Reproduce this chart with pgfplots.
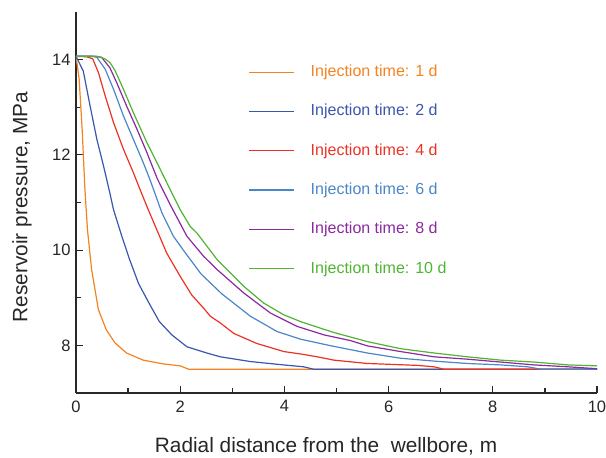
\documentclass[border=0pt]{standalone}
\usepackage{pgfplots}
\pgfplotsset{compat=1.18}
\usepackage{fontspec}
\setmainfont{Liberation Sans}
\definecolor{cOrange}{RGB}{245,130,32}
\definecolor{cDBlue}{RGB}{58,86,174}
\definecolor{cRed}{RGB}{236,50,36}
\definecolor{cLBlue}{RGB}{74,134,200}
\definecolor{cPurple}{RGB}{140,40,160}
\definecolor{cGreen}{RGB}{80,180,50}
\definecolor{axgray}{RGB}{40,40,40}
\begin{document}
\begin{tikzpicture}
\useasboundingbox (-76pt,-65pt) rectangle (530pt,393pt);
\begin{axis}[
  at={(0pt,0pt)}, anchor=south west,
  scale only axis, width=521pt, height=381pt,
  xmin=0, xmax=10, ymin=7, ymax=15,
  axis x line=bottom, axis y line=left,
  axis line style={-, line width=1.4pt, color=axgray},
  xtick={0,2,4,6,8,10}, ytick={8,10,12,14},
  minor tick num=1,
  tick align=inside,
  major tick length=7pt, minor tick length=5pt,
  tick style={line width=1.2pt, color=axgray},
  /pgf/number format/assume math mode=true,
  ticklabel style={font=\fontsize{16.5}{18}\selectfont, color=black!85},
  xticklabel style={yshift=-4pt},
  yticklabel style={xshift=-2pt},
  xlabel={Radial distance from the\ \ wellbore, m},
  ylabel={Reservoir pressure, MPa},
  label style={font=\fontsize{20.8}{22}\selectfont, color=black!85},
  xlabel style={at={(axis description cs:0.48,-0.155)}, anchor=base},
  ylabel style={at={(axis description cs:-0.1036,0.488)}, anchor=center},
  legend cell align=left,
  legend style={at={(axis cs:3.25,13.94)}, anchor=north west, draw=none, fill=none,
    font=\fontsize{16}{18}\selectfont,
    nodes={inner sep=0pt, text height=12pt, text depth=3pt},
    row sep=24.3pt,
    /tikz/every odd column/.append style={column sep=16pt}},
  legend image code/.code={\draw[#1, line width=1.2pt] (0pt,0pt) -- (45pt,0pt);},
  every axis plot/.append style={line width=1.2pt},
]
\addplot[cOrange] coordinates {(0,14.07)(0.06,13.6)(0.12,12.5)(0.17,11.3)(0.22,10.43)(0.30,9.59)(0.43,8.75)(0.58,8.33)(0.75,8.05)(0.97,7.84)(1.29,7.69)(1.68,7.61)(2.0,7.57)(2.16,7.5)(10,7.5)};
\addlegendentry{\textcolor{cOrange}{Injection time: 1 d}}
\addplot[cDBlue] coordinates {(0,14.07)(0.14,13.76)(0.27,13.03)(0.40,12.33)(0.53,11.76)(0.65,11.2)(0.72,10.85)(0.88,10.29)(1.03,9.8)(1.2,9.3)(1.42,8.85)(1.6,8.5)(1.84,8.22)(2.13,7.97)(2.51,7.84)(2.77,7.76)(3.35,7.66)(3.98,7.59)(4.37,7.55)(4.56,7.5)(10,7.5)};
\addlegendentry{\textcolor{cDBlue}{Injection time: 2 d}}
\addplot[cRed] coordinates {(0,14.07)(0.2,14.06)(0.32,14.02)(0.43,13.73)(0.56,13.24)(0.72,12.68)(0.91,12.12)(1.10,11.63)(1.23,11.27)(1.36,10.92)(1.55,10.43)(1.74,9.94)(2.0,9.45)(2.22,9.06)(2.45,8.78)(2.58,8.61)(2.77,8.47)(3.03,8.25)(3.47,8.04)(3.99,7.87)(4.31,7.82)(4.63,7.76)(4.95,7.69)(5.59,7.62)(6.55,7.58)(6.87,7.55)(7.06,7.5)(10,7.5)};
\addlegendentry{\textcolor{cRed}{Injection time: 4 d}}
\addplot[cLBlue] coordinates {(0,14.07)(0.3,14.07)(0.4,14.05)(0.56,13.8)(0.72,13.38)(0.91,12.82)(1.10,12.33)(1.29,11.84)(1.42,11.48)(1.65,10.78)(1.87,10.29)(2.08,9.97)(2.4,9.5)(2.8,9.08)(3.35,8.61)(3.86,8.29)(4.31,8.13)(4.9,7.99)(5.59,7.84)(6.23,7.73)(6.87,7.67)(7.51,7.62)(8.15,7.59)(8.67,7.55)(8.92,7.5)(10,7.5)};
\addlegendentry{\textcolor{cLBlue}{Injection time: 6 d}}
\addplot[cPurple] coordinates {(0,14.07)(0.35,14.07)(0.49,14.05)(0.65,13.83)(0.78,13.52)(0.97,13.03)(1.17,12.54)(1.36,12.05)(1.56,11.5)(1.81,10.95)(2.13,10.29)(2.45,9.87)(2.71,9.59)(3.22,9.1)(3.73,8.68)(4.24,8.40)(4.76,8.22)(5.27,8.1)(5.59,7.99)(6.23,7.87)(6.87,7.76)(7.51,7.71)(8.15,7.65)(8.79,7.59)(9.44,7.55)(10,7.51)};
\addlegendentry{\textcolor{cPurple}{Injection time: 8 d}}
\addplot[cGreen] coordinates {(0,14.07)(0.4,14.07)(0.55,14.02)(0.65,13.94)(0.75,13.77)(0.91,13.38)(1.10,12.89)(1.36,12.26)(1.62,11.69)(1.79,11.31)(2.0,10.85)(2.19,10.5)(2.32,10.36)(2.71,9.8)(3.22,9.24)(3.6,8.89)(3.99,8.64)(4.31,8.5)(4.5,8.43)(4.95,8.27)(5.59,8.08)(6.23,7.93)(6.87,7.84)(7.51,7.76)(8.15,7.69)(8.79,7.65)(9.44,7.59)(10,7.57)};
\addlegendentry{\textcolor{cGreen}{Injection time: 10 d}}
\end{axis}
\end{tikzpicture}
\end{document}
